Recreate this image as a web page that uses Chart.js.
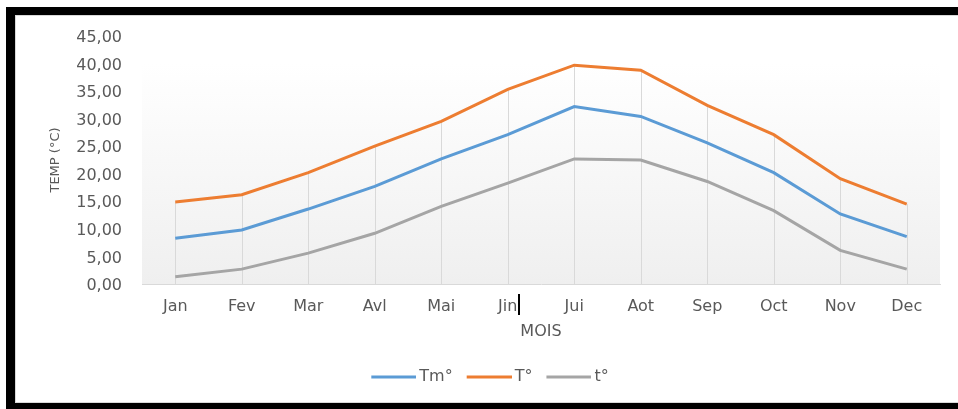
<!DOCTYPE html>
<html>
<head>
<meta charset="utf-8">
<script src="https://cdn.jsdelivr.net/npm/chart.js@4"></script>
<style>
  html, body { margin: 0; padding: 0; background: #fff; overflow: hidden; }
  #frame {
    position: absolute; left: 6px; top: 7px; width: 952px; height: 402px;
    box-sizing: border-box;
    border-top: 8px solid #000; border-left: 9px solid #000; border-bottom: 6px solid #000;
  }
  #frame .inner {
    width: 100%; height: 100%; box-sizing: border-box; background: #fff;
    border-top: 1px solid #d9d9d9; border-left: 1px solid #d9d9d9; border-bottom: 1px solid #d9d9d9;
  }
  #wrap { position: absolute; left: 0; top: 0; width: 958px; height: 409px; }
  #caret { position: absolute; left: 518px; top: 294px; width: 2px; height: 21px; background: #000; }
</style>
</head>
<body>
<div id="frame"><div class="inner"></div></div>
<div id="wrap"><canvas id="tempChart"></canvas></div>
<div id="caret"></div>
<script>
// monthly temperatures (°C)
const months = ['Jan', 'Fev', 'Mar', 'Avl', 'Mai', 'Jin', 'Jui', 'Aot', 'Sep', 'Oct', 'Nov', 'Dec'];
const tMoy = [8.3, 9.8, 13.6, 17.7, 22.7, 27.1, 32.2, 30.4, 25.6, 20.2, 12.7, 8.6];
const tMax = [14.9, 16.2, 20.2, 25.0, 29.5, 35.3, 39.7, 38.8, 32.4, 27.1, 19.1, 14.5];
const tMin = [1.3, 2.7, 5.6, 9.2, 14.1, 18.3, 22.7, 22.5, 18.6, 13.3, 6.1, 2.7];
const yTicks = [0, 5, 10, 15, 20, 25, 30, 35, 40, 45];

const FONT = "'DejaVu Sans', sans-serif";
const TXT = '#595959';

// legend swatch: a 45px line that sits flush left in a 40px box and runs past it
function swatch(color) {
  const c = document.createElement('canvas');
  c.width = 50; c.height = 4;
  const g = c.getContext('2d');
  g.fillStyle = color;
  g.fillRect(5, 0.5, 45, 3);
  return c;
}

// light gradient behind the plot
const plotBg = {
  id: 'plotBg',
  beforeDraw(chart) {
    const { ctx, chartArea: a, scales: { y } } = chart;
    const top = y.getPixelForValue(40);
    const g = ctx.createLinearGradient(0, top, 0, a.bottom);
    g.addColorStop(0, '#ffffff');
    g.addColorStop(1, '#efefef');
    ctx.save();
    ctx.fillStyle = g;
    ctx.fillRect(a.left, top, a.right - a.left, a.bottom - top);
    ctx.restore();
  }
};

// drop lines from the highest point of each month down to the axis
const dropLines = {
  id: 'dropLines',
  beforeDatasetsDraw(chart) {
    const { ctx, chartArea: a, scales: { x, y } } = chart;
    ctx.save();
    ctx.strokeStyle = '#d9d9d9';
    ctx.lineWidth = 1;
    months.forEach((m, i) => {
      const top = Math.max(...chart.data.datasets.map(d => d.data[i]));
      const px = Math.round(x.getPixelForValue(i)) + 0.5;
      ctx.beginPath();
      ctx.moveTo(px, y.getPixelForValue(top));
      ctx.lineTo(px, a.bottom);
      ctx.stroke();
    });
    ctx.restore();
  }
};

const lineDs = (label, data, color) => ({
  label: label, data: data, borderColor: color, backgroundColor: color,
  borderWidth: 3, pointRadius: 0, tension: 0, fill: false, pointStyle: swatch(color)
});

new Chart(document.getElementById('tempChart'), {
  type: 'line',
  data: {
    labels: months,
    datasets: [
      lineDs('Tm°', tMoy, '#5b9bd5'),
      lineDs('T°', tMax, '#ed7d31'),
      lineDs('t°', tMin, '#a5a5a5')
    ]
  },
  options: {
    responsive: true,
    maintainAspectRatio: false,
    animation: false,
    devicePixelRatio: 1,
    layout: { padding: { top: 36, right: 18, bottom: 14, left: 40 } },
    plugins: {
      tooltip: { enabled: false },
      legend: {
        position: 'bottom',
        labels: {
          usePointStyle: true, pointStyleWidth: 40,
          padding: 14, color: TXT, font: { family: FONT, size: 16 }
        }
      }
    },
    scales: {
      x: {
        offset: true,
        grid: { display: false, drawTicks: false },
        border: { display: true, color: '#d9d9d9', width: 1 },
        ticks: { color: TXT, padding: 13, font: { family: FONT, size: 16 }, maxRotation: 0 },
        title: { display: true, text: 'MOIS', color: TXT, font: { family: FONT, size: 16 }, padding: { top: 0, bottom: 14 } },
        afterFit(scale) { scale.height = 71; }
      },
      y: {
        min: 0, max: 45,
        grid: { display: false, drawTicks: false },
        border: { display: false },
        afterBuildTicks(scale) { scale.ticks = yTicks.map(v => ({ value: v })); },
        ticks: {
          color: TXT, padding: 20, labelOffset: 2, font: { family: FONT, size: 16 },
          callback: v => v.toFixed(2).replace('.', ',')
        },
        title: { display: true, text: 'TEMP (°C)', color: TXT, font: { family: FONT, size: 13 }, padding: { top: 8 } },
        afterFit(scale) { scale.width = 102; }
      }
    }
  },
  plugins: [plotBg, dropLines]
});
</script>
</body>
</html>
